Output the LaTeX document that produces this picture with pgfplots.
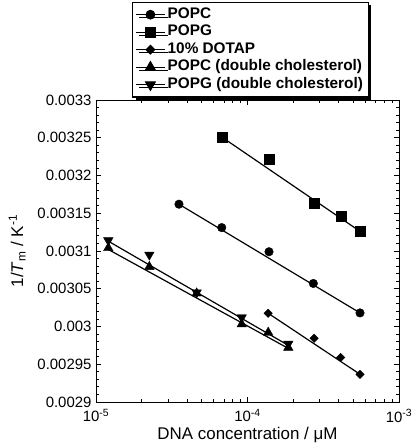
\documentclass[border=0pt]{standalone}
\usepackage{pgfplots}
\pgfplotsset{compat=1.18}
\usepackage{fontspec}
\setmainfont{Liberation Sans}
\usetikzlibrary{shadows}
\begin{document}
\begin{tikzpicture}
\begin{axis}[
  scale only axis, width=303bp, height=302bp,
  xmode=log, xmin=1e-5, xmax=1e-3,
  ymin=0.0029, ymax=0.0033,
  scaled y ticks=false,
  xtick={1e-5,1e-4,1e-3},
  xticklabels={10\textsuperscript{-5},10\textsuperscript{-4},10\textsuperscript{-3}},
  minor xtick={2e-5,3e-5,4e-5,5e-5,6e-5,7e-5,8e-5,9e-5,2e-4,3e-4,4e-4,5e-4,6e-4,7e-4,8e-4,9e-4},
  ytick={0.0029,0.00295,0.003,0.00305,0.0031,0.00315,0.0032,0.00325,0.0033},
  yticklabels={0.0029,0.00295,0.003,0.00305,0.0031,0.00315,0.0032,0.00325,0.0033},
  minor y tick num=4,
  tick align=inside,
  major tick length=5bp, minor tick length=3bp,
  axis line style={line width=0.9bp},
  every tick/.style={black, line width=0.8bp},
  tick label style={font=\fontsize{15}{17}\selectfont},
  xticklabel style={yshift=-4bp},
  yticklabel style={xshift=-1bp},
  xlabel={DNA concentration / μM},
  ylabel={1/\textit{T}\textsubscript{m} / K\textsuperscript{-1}},
  label style={font=\fontsize{17}{19}\selectfont},
  xlabel style={at={(axis description cs:0.5,-0.11)}, anchor=center},
  ylabel style={at={(axis description cs:-0.26,0.5)}, anchor=center},
  legend cell align=left,
  legend style={at={(0.119,1.325)}, anchor=north west, draw=black, line width=1.2bp, fill=white,
    drop shadow={shadow xshift=3bp, shadow yshift=-3bp, opacity=1, fill=black},
    inner xsep=3bp, inner ysep=3.5bp, row sep=0pt,
    font=\bfseries\fontsize{15.4}{17}\selectfont,
    nodes={text height=11bp, text depth=3.5bp, inner sep=1.5bp, inner xsep=2.5bp}},
  legend image code/.code={\draw[mark=none, line width=1.2bp, black] (0cm,0cm) -- (1.0cm,0cm); \draw plot coordinates {(0.5cm,0cm)};},
]
% POPC
\addplot[only marks, mark=*, mark size=4.3, black] coordinates {
(3.53e-5,0.003162) (6.76e-5,0.003131) (1.387e-4,0.003099) (2.72e-4,0.003057) (5.53e-4,0.003018)};
\addlegendentry{POPC}
% POPG
\addplot[only marks, mark=square*, mark size=5, black] coordinates {
(6.76e-5,0.003251) (1.387e-4,0.003222) (2.76e-4,0.003163) (4.14e-4,0.003146) (5.53e-4,0.003126)};
\addlegendentry{POPG}
% 10% DOTAP
\addplot[only marks, mark=square*, mark size=3, mark options={rotate=45}, black] coordinates {
(1.37e-4,0.0030175) (2.75e-4,0.0029844) (4.12e-4,0.002959) (5.53e-4,0.0029367)};
\addlegendentry{10\% DOTAP}
% POPC double cholesterol
\addplot[only marks, mark=triangle*, mark size=5.5, black] coordinates {
(1.206e-5,0.003104) (2.25e-5,0.003079) (4.62e-5,0.003044) (9.16e-5,0.003003) (1.37e-4,0.002992) (1.86e-4,0.002972)};
\addlegendentry{POPC (double cholesterol)}
% POPG double cholesterol
\addplot[only marks, mark=triangle*, mark size=5.5, mark options={rotate=180}, black] coordinates {
(1.206e-5,0.003114) (2.25e-5,0.003095) (4.62e-5,0.003045) (9.16e-5,0.003012) (1.86e-4,0.002977)};
\addlegendentry{POPG (double cholesterol)}
% fit lines
\addplot[forget plot, no marks, line width=1.2bp, black] coordinates {(3.53e-5,0.003162) (5.53e-4,0.003018)};
\addplot[forget plot, no marks, line width=1.2bp, black] coordinates {(6.76e-5,0.003251) (5.53e-4,0.003126)};
\addplot[forget plot, no marks, line width=1.2bp, black] coordinates {(1.37e-4,0.0030175) (5.53e-4,0.0029367)};
\addplot[forget plot, no marks, line width=1.2bp, black] coordinates {(1.206e-5,0.003102) (1.86e-4,0.002971)};
\addplot[forget plot, no marks, line width=1.2bp, black] coordinates {(1.206e-5,0.003113) (1.86e-4,0.002975)};
\end{axis}
\pgfresetboundingbox
\path ([shift={(-96bp,-45bp)}]current axis.south west) rectangle ([shift={(16bp,100bp)}]current axis.north east);
\end{tikzpicture}
\end{document}
